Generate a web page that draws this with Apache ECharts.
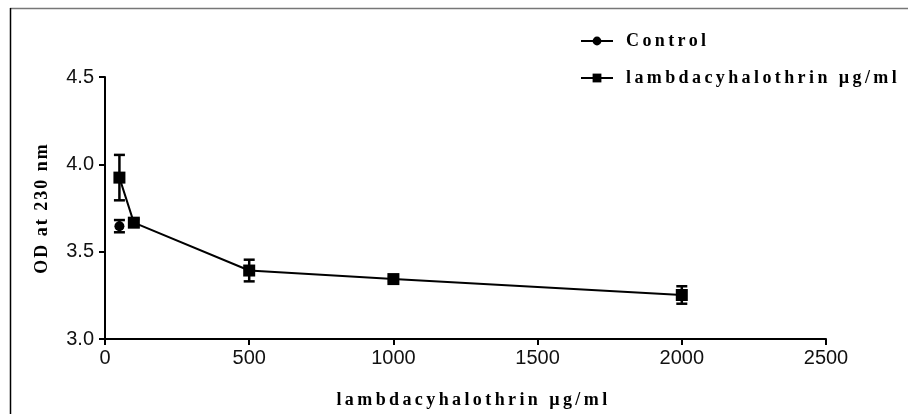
<!DOCTYPE html>
<html><head><meta charset="utf-8">
<script src="https://cdn.jsdelivr.net/npm/echarts@6/dist/echarts.min.js"></script>
<style>
html,body{margin:0;padding:0;background:#fff}
#c{width:908px;height:414px}
</style>
</head><body><div id="c"></div>
<script>
var xTicks = [0, 500, 1000, 1500, 2000, 2500];
var yTicks = [3.0, 3.5, 4.0, 4.5];
var controlX = [50];
var controlY = [3.646];
var controlErr = [0.035];
var lambdaX = [50, 100, 500, 1000, 2000];
var lambdaY = [3.924, 3.666, 3.392, 3.343, 3.252];
var lambdaErr = [0.13, 0.02, 0.062, 0.012, 0.05];

// letter spacing for the serif titles (as in the original figure)
(function(){
  var proto = CanvasRenderingContext2D.prototype;
  if (!('letterSpacing' in proto)) return;
  var orig = proto.fillText;
  proto.fillText = function(t, x, y, m){
    var f = this.font || '';
    var ls = f.indexOf('Times New Roman') >= 0 ? '2px' : (f.indexOf('Liberation Serif') >= 0 ? '3.4px' : '0px');
    var prev = this.letterSpacing;
    this.letterSpacing = ls;
    var r = (m === undefined) ? orig.call(this, t, x, y) : orig.call(this, t, x, y, m);
    this.letterSpacing = prev;
    return r;
  };
})();

var ctrlData = controlX.map(function(x,i){return [x, controlY[i]];});
var lamData = lambdaX.map(function(x,i){return [x, lambdaY[i]];});
var errData = [];
controlX.forEach(function(x,i){errData.push([x, controlY[i]-controlErr[i], controlY[i]+controlErr[i]]);});
lambdaX.forEach(function(x,i){errData.push([x, lambdaY[i]-lambdaErr[i], lambdaY[i]+lambdaErr[i]]);});

var serif = '"Liberation Serif", serif';
var serifY = '"Times New Roman", "Liberation Serif", serif';
var sans = '"Liberation Sans", Arial, sans-serif';
var chart = echarts.init(document.getElementById('c'), null, {renderer:'canvas'});
chart.setOption({
  animation: false,
  backgroundColor: '#fff',
  grid: {left: 105, right: 82, top: 77, bottom: 73},
  graphic: [
    {type:'line', shape:{x1:10, y1:8.5, x2:908, y2:8.5}, style:{stroke:'#777', lineWidth:1.5}},
    {type:'line', shape:{x1:10.5, y1:8, x2:10.5, y2:414}, style:{stroke:'#000', lineWidth:1.5}}
  ],
  legend: {
    orient: 'vertical', left: 575, top: 27, itemWidth: 32, itemHeight: 11, itemGap: 19,
    data: ['Control', 'lambdacyhalothrin µg/ml'],
    textStyle: {fontFamily: serif, fontWeight: 'bold', fontSize: 18, color: '#000', padding:[0,0,0,8]}
  },
  xAxis: {
    type: 'value', min: 0, max: 2500, interval: 500,
    name: 'lambdacyhalothrin µg/ml', nameLocation: 'middle', nameGap: 52,
    nameTextStyle: {fontFamily: serif, fontWeight: 'bold', fontSize: 18, color: '#000', padding: [0,0,0,16]},
    axisLine: {show: true, lineStyle: {color: '#000', width: 2}},
    axisTick: {show: true, length: 6, lineStyle: {color: '#000', width: 2}},
    axisLabel: {fontFamily: sans, fontSize: 20, color: '#111', margin: 9,
      formatter: function(v){return xTicks.indexOf(v) >= 0 ? String(v) : '';}},
    splitLine: {show: false}
  },
  yAxis: {
    type: 'value', min: 3.0, max: 4.5, interval: 0.5,
    name: 'OD at 230 nm', nameLocation: 'middle', nameGap: 54, nameRotate: 90,
    nameTextStyle: {fontFamily: serifY, fontWeight: 'bold', fontSize: 18, color: '#000'},
    axisLine: {show: true, lineStyle: {color: '#000', width: 2}},
    axisTick: {show: true, length: 6, lineStyle: {color: '#000', width: 2}},
    axisLabel: {fontFamily: sans, fontSize: 20, color: '#111', margin: 11,
      formatter: function(v){ var s = v.toFixed(1); return yTicks.indexOf(+s) >= 0 ? s : ''; }},
    splitLine: {show: false}
  },
  series: [
    {
      type: 'custom', name: 'err', silent: true, z: 3,
      data: errData,
      renderItem: function(params, api){
        var x = api.value(0);
        var lo = api.coord([x, api.value(1)]);
        var hi = api.coord([x, api.value(2)]);
        var w = 5.5;
        var st = {stroke:'#000', lineWidth:2.5};
        return {type:'group', children:[
          {type:'line', shape:{x1:lo[0], y1:lo[1], x2:hi[0], y2:hi[1]}, style:st},
          {type:'line', shape:{x1:lo[0]-w, y1:lo[1], x2:lo[0]+w, y2:lo[1]}, style:st},
          {type:'line', shape:{x1:hi[0]-w, y1:hi[1], x2:hi[0]+w, y2:hi[1]}, style:st}
        ]};
      }
    },
    {
      type: 'line', name: 'Control', data: ctrlData, symbol: 'circle', symbolSize: 10,
      itemStyle: {color: '#000'}, lineStyle: {color: '#000', width: 2}, z: 4
    },
    {
      type: 'line', name: 'lambdacyhalothrin µg/ml', data: lamData, symbol: 'rect', symbolSize: 12,
      itemStyle: {color: '#000'}, lineStyle: {color: '#000', width: 2}, z: 4
    }
  ]
});
</script></body></html>
